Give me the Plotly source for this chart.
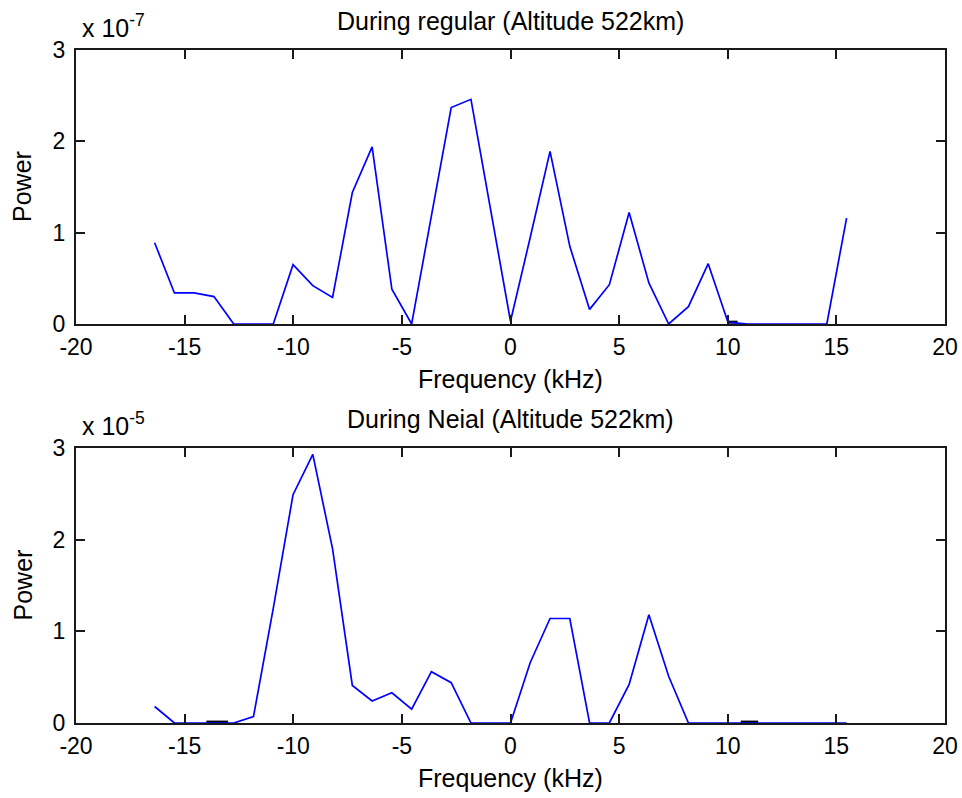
import plotly.graph_objects as go

# Frequency bins (kHz)
freq = [-16.38, -15.47, -14.56, -13.65, -12.74, -11.83, -10.92, -10.01, -9.10, -8.19,
        -7.28, -6.37, -5.46, -4.55, -3.64, -2.73, -1.82, -0.91, 0.0, 0.91,
        1.82, 2.73, 3.64, 4.55, 5.46, 6.37, 7.28, 8.19, 9.10, 10.01,
        10.92, 11.83, 12.74, 13.65, 14.56, 15.47]

# Power, regular (units of 1e-7)
power_regular = [0.89, 0.34, 0.34, 0.30, 0.0, 0.0, 0.0, 0.65, 0.42, 0.29,
                 1.44, 1.94, 0.38, 0.0, 1.20, 2.37, 2.46, 1.25, 0.03, 0.95,
                 1.89, 0.85, 0.16, 0.43, 1.22, 0.45, 0.0, 0.19, 0.66, 0.02,
                 0.0, 0.0, 0.0, 0.0, 0.0, 1.16]

# Power, Neial (units of 1e-5)
power_neial = [0.18, 0.0, 0.0, 0.0, 0.0, 0.07, 1.25, 2.49, 2.93, 1.90,
               0.41, 0.24, 0.33, 0.15, 0.56, 0.44, 0.0, 0.0, 0.0, 0.66,
               1.14, 1.14, 0.0, 0.0, 0.42, 1.18, 0.51, 0.0, 0.0, 0.0,
               0.0, 0.0, 0.0, 0.0, 0.0, 0.0]

# Short dark segments visible on the baseline
dark_regular_x = [10.0, 10.45]
dark_regular_y = [0.02, 0.02]
dark_neial_x = [[-14.0, -13.0], [10.6, 11.4]]
dark_neial_y = [[0.01, 0.01], [0.01, 0.01]]

xticks = [-20, -15, -10, -5, 0, 5, 10, 15, 20]
yticks = [0, 1, 2, 3]
titles = ["During regular (Altitude 522km)", "During Neial (Altitude 522km)"]
exponents = ["-7", "-5"]
xlabel = "Frequency (kHz)"
ylabel = "Power"

W, H = 962, 798
FONT = "Liberation Sans, Arial, sans-serif"
BLUE = "#0000ff"

fig = go.Figure()
fig.add_trace(go.Scatter(x=dark_regular_x, y=dark_regular_y, mode="lines",
                         line=dict(color="black", width=3),
                         xaxis="x", yaxis="y", showlegend=False))
fig.add_trace(go.Scatter(x=freq, y=power_regular, mode="lines",
                         line=dict(color=BLUE, width=1.7),
                         xaxis="x", yaxis="y", showlegend=False))
for sx, sy in zip(dark_neial_x, dark_neial_y):
    fig.add_trace(go.Scatter(x=sx, y=sy, mode="lines",
                             line=dict(color="black", width=3),
                             xaxis="x2", yaxis="y2", showlegend=False))
fig.add_trace(go.Scatter(x=freq, y=power_neial, mode="lines",
                         line=dict(color=BLUE, width=1.7),
                         xaxis="x2", yaxis="y2", showlegend=False))

# plot-area pixel boxes
X0, X1 = 76, 945
boxes = [(50, 324), (448, 723)]
xdom = [X0 / W, X1 / W]
ydoms = [[1 - b / H, 1 - t / H] for t, b in boxes]

axis_common = dict(
    showline=True, linecolor="#1a1a1a", linewidth=2, mirror="ticks",
    ticks="inside", ticklen=9, tickwidth=1.5, tickcolor="#1a1a1a",
    showgrid=False, zeroline=False, automargin=False,
    tickfont=dict(family=FONT, size=23, color="black"),
)

layout = dict(
    width=W, height=H, margin=dict(l=0, r=0, t=0, b=0),
    plot_bgcolor="white", paper_bgcolor="white",
    font=dict(family=FONT, size=24, color="black"),
)
for i, (xa, ya) in enumerate([("xaxis", "yaxis"), ("xaxis2", "yaxis2")]):
    yanchor = "y" if i == 0 else "y2"
    xanchor = "x" if i == 0 else "x2"
    layout[xa] = dict(axis_common, domain=xdom, anchor=yanchor, range=[-20, 20],
                      tickvals=xticks, ticktext=[str(t) for t in xticks],
                      ticklabelstandoff=1)
    layout[ya] = dict(axis_common, domain=ydoms[i], anchor=xanchor, range=[0, 3],
                      tickvals=yticks, ticktext=[str(t) for t in yticks],
                      ticklabelstandoff=4)
fig.update_layout(**layout)

annotations = []
cx = 0.5 * (xdom[0] + xdom[1])
for i in range(2):
    t, b = boxes[i]
    tf = dict(family=FONT, size=25, color="black")
    # title
    annotations.append(dict(text=titles[i], x=cx, y=1 - (t - 29) / H,
                            xref="paper", yref="paper", xanchor="center", yanchor="middle",
                            showarrow=False, font=tf))
    # exponent
    annotations.append(dict(text="x 10<sup>" + exponents[i] + "</sup>", x=(X0 + 4) / W,
                            y=1 - (t - 24) / H, xref="paper", yref="paper",
                            xanchor="left", yanchor="middle", showarrow=False, font=tf))
    # x label
    annotations.append(dict(text=xlabel, x=cx, y=1 - (b + 55) / H,
                            xref="paper", yref="paper", xanchor="center", yanchor="middle",
                            showarrow=False, font=tf))
    # y label
    annotations.append(dict(text=ylabel, x=22 / W, y=1 - ((t + b) / 2) / H,
                            xref="paper", yref="paper", xanchor="center", yanchor="middle",
                            textangle=-90, showarrow=False, font=tf))
fig.update_layout(annotations=annotations)

fig.write_html("out.html")
